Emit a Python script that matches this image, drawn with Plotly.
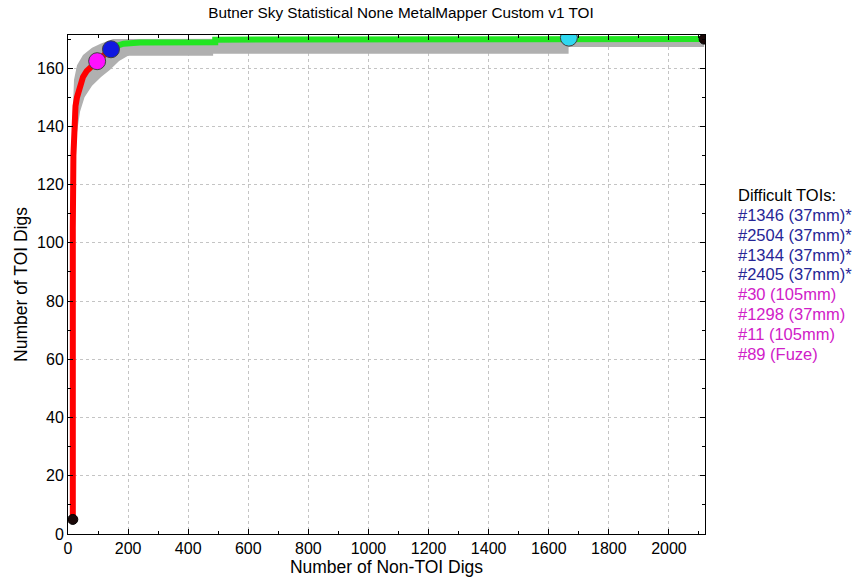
"""TOI dig curve: number of TOI digs vs number of non-TOI digs."""

import plotly.graph_objects as go

# --- data ---
red_x = [16, 15, 15, 16, 18, 21, 25, 30, 40, 50, 62, 80, 97, 120, 143]
red_y = [5, 30, 70, 105, 130, 142, 147, 150, 154, 157, 159, 160.5, 162.4, 164.5, 166.5]

green_x = [143, 160, 185, 240, 490, 490, 2117]
green_y = [166.5, 167.6, 168.4, 168.8, 168.9, 169.8, 170]

band_upper_x = [14, 16, 20, 30, 50, 80, 110, 150, 2117]
band_upper_y = [125, 145, 156, 161, 164.5, 167, 168.5, 170, 170.6]
band_lower_x = [2117, 1666, 1666, 483, 483, 200, 170, 140, 110, 80, 55, 40, 30, 22]
band_lower_y = [167.3, 167.3, 165, 165, 164.3, 164.3, 162.5, 159.5, 157, 154, 150, 145, 138, 125]

pts_x = [97, 143, 1667]
pts_y = [162.4, 166.5, 170.5]
pts_colors = ["#ff10ff", "#1018e0", "#30d8f0"]

end_x = [16, 2117]
end_y = [5, 170]

difficult_label = "Difficult TOIs:"
difficult_tois = [
    "#1346 (37mm)*", "#2504 (37mm)*", "#1344 (37mm)*", "#2405 (37mm)*",
    "#30 (105mm)", "#1298 (37mm)", "#11 (105mm)", "#89 (Fuze)",
]
toi_colors = ["#262696"] * 4 + ["#d020c8"] * 4

x_ticks = list(range(0, 2001, 200))
y_ticks = list(range(0, 161, 20))

fig = go.Figure()

# grey uncertainty band
fig.add_trace(go.Scatter(
    x=band_upper_x + band_lower_x,
    y=band_upper_y + band_lower_y,
    fill="toself", fillcolor="#b0b0b0",
    line=dict(width=0), mode="lines", hoverinfo="skip",
))

fig.add_trace(go.Scatter(
    x=red_x, y=red_y, mode="lines",
    line=dict(color="#ff0000", width=6),
))
fig.add_trace(go.Scatter(
    x=green_x, y=green_y, mode="lines",
    line=dict(color="#22e622", width=6, shape="linear"),
))

fig.add_trace(go.Scatter(
    x=end_x, y=end_y, mode="markers",
    marker=dict(size=10, color="#1a0808", line=dict(color="#000000", width=1)),
))
fig.add_trace(go.Scatter(
    x=pts_x, y=pts_y, mode="markers",
    marker=dict(size=17, color=pts_colors, line=dict(color="#404040", width=1)),
))

# difficult TOI list on the right
PLOT_TOP, PLOT_BOTTOM = 35, 534
line_px = [195] + [215 + 19.8 * i for i in range(len(difficult_tois))]
labels = [difficult_label] + difficult_tois
colors = ["#000000"] + toi_colors
for text, py, col in zip(labels, line_px, colors):
    fig.add_annotation(
        text=text, xref="paper", yref="paper",
        x=(736 - 68) / (705 - 68), y=(PLOT_BOTTOM - py) / (PLOT_BOTTOM - PLOT_TOP),
        xanchor="left", yanchor="middle", showarrow=False,
        font=dict(size=16.5, color=col, family="Liberation Sans, Arial"),
    )

axis_common = dict(
    showline=True, linecolor="#000000", linewidth=1, mirror="ticks",
    ticks="inside", ticklen=5, tickcolor="#000000",
    showgrid=True, gridcolor="#c4c4c4", griddash="dot", gridwidth=1,
    zeroline=False, tickfont=dict(size=16, color="#000000"), automargin=False,
)

fig.update_layout(
    width=855, height=584,
    margin=dict(l=68, r=150, t=35, b=50),
    paper_bgcolor="white", plot_bgcolor="white",
    font=dict(family="Liberation Sans, Arial", color="#000000"),
    showlegend=False,
    title=dict(
        text="Butner Sky Statistical None MetalMapper Custom v1 TOI",
        x=401 / 855, xanchor="center", y=1 - 13 / 584, yanchor="middle",
        font=dict(size=15.3, color="#000000"),
    ),
    xaxis=dict(
        axis_common, range=[0, 2120], tickvals=x_ticks,
        minor=dict(dtick=100, ticks="inside", ticklen=3, tickcolor="#000000", showgrid=False),
        title=dict(text="Number of Non-TOI Digs", font=dict(size=17.5), standoff=1),
    ),
    yaxis=dict(
        axis_common, range=[0, 171.4], tickvals=y_ticks,
        minor=dict(dtick=10, ticks="inside", ticklen=3, tickcolor="#000000", showgrid=False),
        title=dict(text="Number of TOI Digs", font=dict(size=17.5), standoff=4),
    ),
)

fig.write_html(
    "out.html",
    config={"displayModeBar": False},
    post_script="document.body.style.margin='0';",
)
